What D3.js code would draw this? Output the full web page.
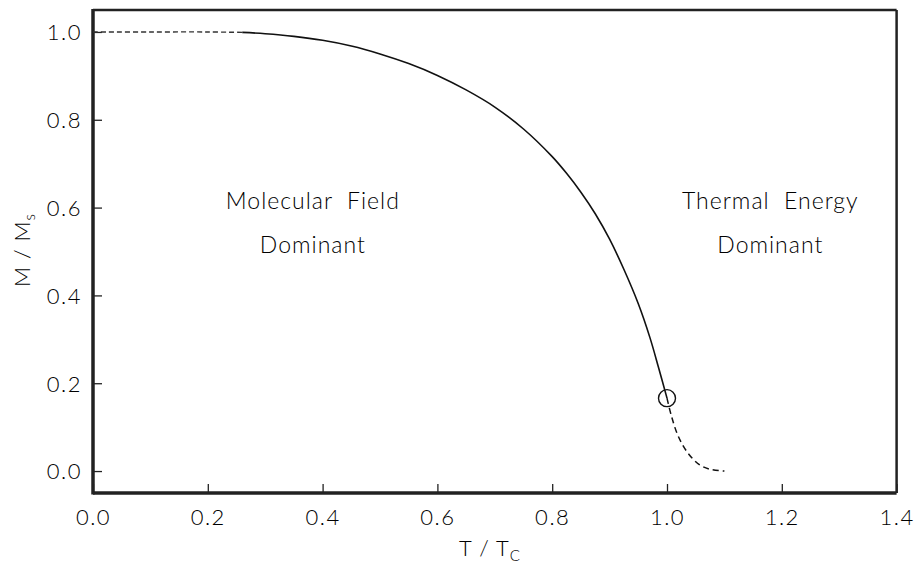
<!DOCTYPE html>
<html>
<head>
<meta charset="utf-8">
<script src="https://cdn.jsdelivr.net/npm/d3@7"></script>
<style>
  html, body { margin: 0; padding: 0; background: #fff; }
  svg text { font-family: "Lato", "Open Sans", sans-serif; font-weight: 300; fill: #000; }
</style>
</head>
<body>
<svg id="chart" width="916" height="565"></svg>
<script>
// ---- data ----
const xTicks = [0.0, 0.2, 0.4, 0.6, 0.8, 1.0, 1.2, 1.4];
const yTicks = [0.0, 0.2, 0.4, 0.6, 0.8, 1.0];

// low-T dashed start
const lowT = [0.0, 0.1, 0.2, 0.26];
const lowM = [1.0, 1.0, 1.0, 0.999];

// main solid curve
const mainT = [0.26, 0.3, 0.35, 0.4, 0.45, 0.5, 0.55, 0.6, 0.65, 0.7, 0.75, 0.8, 0.825, 0.85, 0.875, 0.9, 0.925, 0.95, 0.97, 0.985, 1.0];
const mainM = [0.999, 0.996, 0.990, 0.981, 0.968, 0.950, 0.928, 0.901, 0.868, 0.829, 0.779, 0.716, 0.678, 0.635, 0.586, 0.528, 0.459, 0.381, 0.305, 0.237, 0.166];

// dashed tail above Tc
const tailT = [1.0, 1.008, 1.02, 1.037, 1.057, 1.075, 1.1];
const tailM = [0.166, 0.124, 0.078, 0.040, 0.014, 0.004, 0.0];

// critical point marker
const markT = [1.0];
const markM = [0.166];

const labels = [
  { t: 0.383, m: 0.615, lines: ["Molecular  Field", "Dominant"] },
  { t: 1.18, m: 0.615, lines: ["Thermal  Energy", "Dominant"] }
];

// ---- layout ----
const svg = d3.select("#chart");
const L = 93, R = 896.6, T = 10, B = 493;
const x = d3.scaleLinear().domain([0, 1.4]).range([L, R]);
const y = d3.scaleLinear().domain([-0.05, 1.05]).range([B, T]);

// axes (ticks inside)
const fmt = d3.format(".1f");
const gx = svg.append("g").attr("transform", `translate(0,${B})`)
  .call(d3.axisBottom(x).tickValues(xTicks).tickFormat(fmt).tickSizeInner(-9).tickSizeOuter(0).tickPadding(13));
const gy = svg.append("g").attr("transform", `translate(${L},0)`)
  .call(d3.axisLeft(y).tickValues(yTicks).tickFormat(fmt).tickSizeInner(-9).tickSizeOuter(0).tickPadding(11));
[gx, gy].forEach(g => {
  g.select(".domain").remove();
  g.selectAll(".tick line").attr("stroke", "#222").attr("stroke-width", 1.3);
  g.selectAll(".tick text").attr("font-size", 22).attr("letter-spacing", "1.5px").style("fill", "#000");
});
gx.selectAll(".tick text").attr("dy", "0.85em");
gy.selectAll(".tick text").attr("dy", "0.36em");

// frame
svg.append("line").attr("x1", L).attr("x2", L).attr("y1", T - 1).attr("y2", B + 1.5).attr("stroke", "#222").attr("stroke-width", 3.5);
svg.append("line").attr("x1", L).attr("x2", R).attr("y1", B).attr("y2", B).attr("stroke", "#222").attr("stroke-width", 3.5);
svg.append("line").attr("x1", L).attr("x2", R).attr("y1", T).attr("y2", T).attr("stroke", "#222").attr("stroke-width", 2.5);
svg.append("line").attr("x1", R).attr("x2", R).attr("y1", T).attr("y2", B).attr("stroke", "#222").attr("stroke-width", 2.5);

// curves
const line = d3.line().x(d => x(d[0])).y(d => y(d[1])).curve(d3.curveCatmullRom.alpha(0.5));
const zip = (a, b) => a.map((v, i) => [v, b[i]]);

svg.append("path").datum(zip(lowT, lowM)).attr("d", line)
  .attr("fill", "none").attr("stroke", "#333").attr("stroke-width", 1.4).attr("stroke-dasharray", "5,3");
svg.append("path").datum(zip(mainT, mainM)).attr("d", line)
  .attr("fill", "none").attr("stroke", "#111").attr("stroke-width", 1.6);
svg.append("path").datum(zip(tailT, tailM)).attr("d", line)
  .attr("fill", "none").attr("stroke", "#111").attr("stroke-width", 1.5).attr("stroke-dasharray", "6,4");

svg.selectAll("circle.mark").data(zip(markT, markM)).enter().append("circle")
  .attr("class", "mark").attr("cx", d => x(d[0])).attr("cy", d => y(d[1])).attr("r", 8.5)
  .attr("fill", "none").attr("stroke", "#111").attr("stroke-width", 1.4);

// region labels
labels.forEach(lb => {
  lb.lines.forEach((s, i) => {
    svg.append("text").attr("x", x(lb.t)).attr("y", y(lb.m) + 8 + i * 44)
      .attr("text-anchor", "middle").attr("font-size", 23).attr("letter-spacing", "1px")
      .style("white-space", "pre").text(s);
  });
});

// axis titles
const xt = svg.append("text").attr("x", 490).attr("y", 556).attr("text-anchor", "middle").attr("font-size", 22).attr("letter-spacing", "1px");
xt.append("tspan").text("T / T");
xt.append("tspan").attr("font-size", 15).attr("dy", 5).text("C");

const yt = svg.append("text").attr("transform", "translate(30,250) rotate(-90)").attr("text-anchor", "middle").attr("font-size", 22).attr("letter-spacing", "1px");
yt.append("tspan").text("M / M");
yt.append("tspan").attr("font-size", 15).attr("dy", 5).text("s");
</script>
</body>
</html>
